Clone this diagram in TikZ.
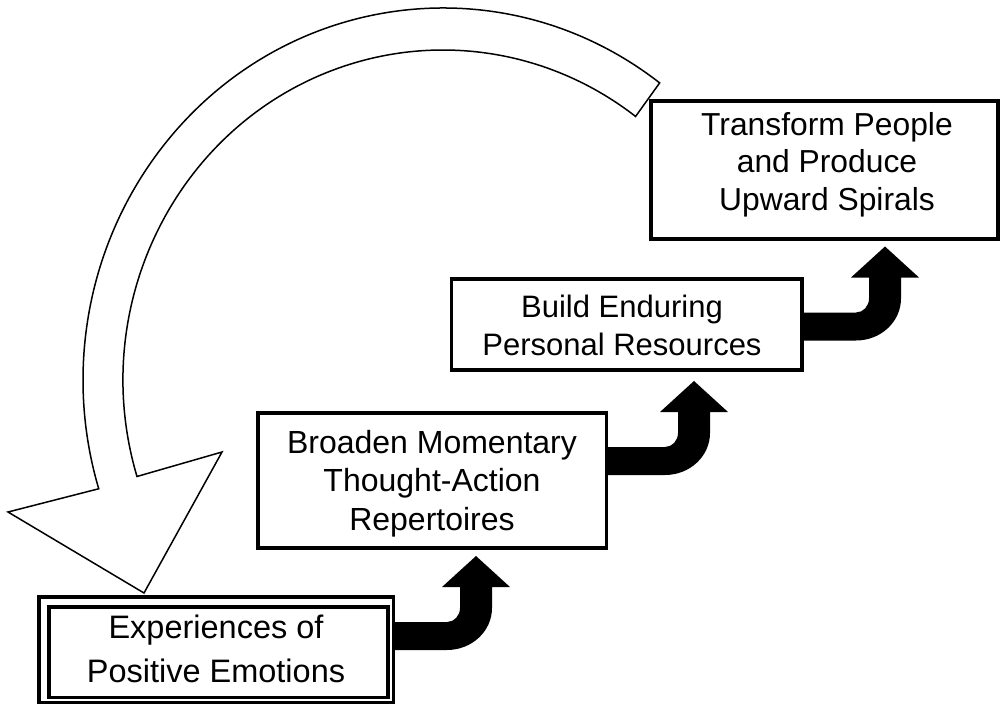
\documentclass[tikz,border=0pt]{standalone}
\usepackage{fontspec}
\setmainfont{Liberation Sans}
\begin{document}
\begin{tikzpicture}[x=1pt,y=-1pt,
  frame/.style={draw, line width=3.2pt, fill=white, inner sep=0pt},
  boxtext/.style={anchor=north, inner sep=0pt, align=center},
  hollow/.style={draw, line width=1.5pt, fill=white, line join=miter},
  turnarrow/.pic={
    \fill (-110,-14) -- (-29,-14) .. controls (-21.8,-14) and (-16,-20.3) .. (-16,-28)
      -- (-16,-49) -- (-34,-49) -- (0,-80) -- (34,-49) -- (16,-49) -- (16,-28)
      .. controls (16,-4.8) and (-4.1,14) .. (-29,14) -- (-110,14) -- cycle;
  }]
\useasboundingbox (0,0) rectangle (1005,705);

% big hollow return arrow
\coordinate (c) at (443,380);
\draw[hollow] ([shift={(-53:360 and 372)}]c)
  arc[start angle=-53, end angle=-197, x radius=360, y radius=372]
  -- (8,512) -- (144,593) -- (222,452)
  -- ([shift={(163:320 and 330)}]c)
  arc[start angle=163, end angle=307, x radius=320, y radius=330]
  -- cycle;

% black turning arrows
\pic at (476,636) {turnarrow};
\pic at (694,461) {turnarrow};
\pic at (885,326.5) {turnarrow};

% boxes
\node[frame, minimum width=354.5pt, minimum height=105.5pt] (b1) at (216.25,649.75) {};
\node[draw, line width=3.5pt, inner sep=0pt, minimum width=339pt, minimum height=90.5pt] (b1in) at (218.5,652.25) {};
\node[frame, minimum width=348.5pt, minimum height=135pt] (b2) at (432.25,480.5) {};
\node[frame, minimum width=350.5pt, minimum height=91pt] (b3) at (626.75,324.5) {};
\node[frame, minimum width=347pt, minimum height=138pt] (b4) at (824.5,170) {};

% texts
\node[boxtext, font=\fontsize{32.5}{44}\selectfont] (t1) at (216,614.5) {Experiences of\\Positive Emotions};
\node[boxtext, font=\fontsize{32}{38.5}\selectfont] (t2) at (432,430) {Broaden Momentary\\Thought-Action\\Repertoires};
\node[boxtext, font=\fontsize{31}{38}\selectfont] (t3) at (622,294.7) {Build Enduring\\Personal Resources};
\node[boxtext, font=\fontsize{31.8}{37.5}\selectfont] (t4) at (827,111.8) {Transform People\\and Produce\\Upward Spirals};
\end{tikzpicture}
\end{document}
